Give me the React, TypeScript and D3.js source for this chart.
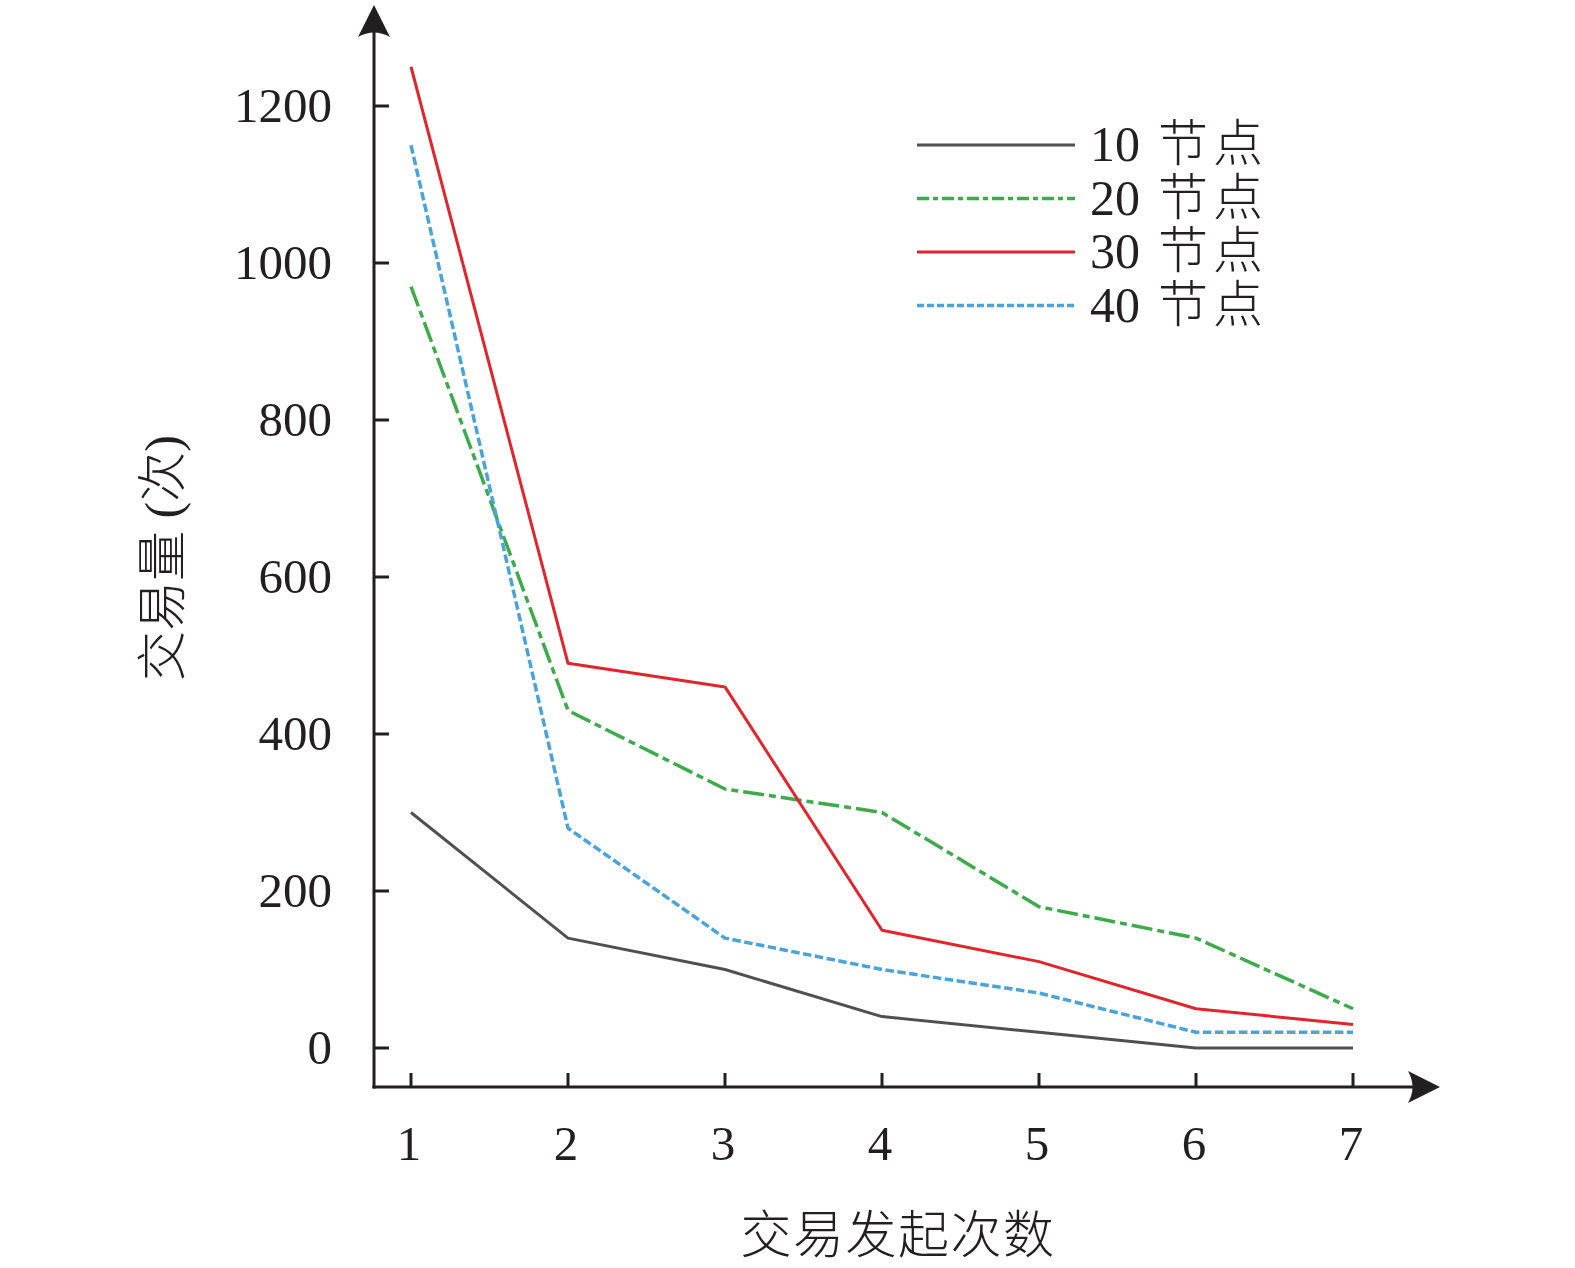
import React from 'react';
import * as d3 from 'd3';

// x categories: number of times a transaction was initiated
const rounds = [1, 2, 3, 4, 5, 6, 7];
const yTicks = [0, 200, 400, 600, 800, 1000, 1200];

// transaction volume per network size
const nodes10 = [300, 140, 100, 40, 20, 0, 0];
const nodes20 = [970, 430, 330, 300, 180, 140, 50];
const nodes30 = [1250, 490, 460, 150, 110, 50, 30];
const nodes40 = [1150, 280, 140, 100, 70, 20, 20];

const seriesCounts = ['10', '20', '30', '40'];
const seriesUnit = '节点';

const W = 1575;
const H = 1268;
const NUM_FONT = '"Liberation Serif", "Times New Roman", "Noto Sans CJK SC", serif';
const CJK_FONT = '"Liberation Serif", "Noto Sans CJK SC", sans-serif';

const SERIES = [
  { count: seriesCounts[0], values: nodes10, color: '#505050', width: 3, dash: undefined as string | undefined, legendDash: undefined as string | undefined },
  { count: seriesCounts[1], values: nodes20, color: '#3daa4b', width: 3.5, dash: '21,5,7,5', legendDash: '12,4,5,4' },
  { count: seriesCounts[2], values: nodes30, color: '#e0262c', width: 3, dash: undefined, legendDash: undefined },
  { count: seriesCounts[3], values: nodes40, color: '#4aa3d9', width: 3.5, dash: '8.5,3.5', legendDash: '7,3' },
];

export default function App() {
  const originX = 374;
  const originY = 1087;

  const x = d3.scaleLinear().domain([1, 7]).range([411, 1353]);
  const y = d3.scaleLinear().domain([0, 1200]).range([1048, 106]);

  const line = d3
    .line<number>()
    .x((_, i) => x(rounds[i]))
    .y(d => y(d));

  const legendX0 = 917;
  const legendX1 = 1075;
  const legendY0 = 145;
  const legendStep = 53.5;

  return (
    <svg
      width={W}
      height={H}
      style={{ position: 'absolute', left: 0, top: 0, background: '#fff' }}
    >
      {/* axes */}
      <g stroke="#231f20" strokeWidth={3} fill="none">
        <line x1={originX} y1={originY + 1.5} x2={originX} y2={30} />
        <line x1={originX - 1.5} y1={originY} x2={1416} y2={originY} />
      </g>
      <path
        d={`M${originX},5 L${originX + 16},37 Q${originX},28 ${originX - 16},37 Z`}
        fill="#231f20"
      />
      <path
        d={`M1440,${originY} L1408,${originY - 16} Q1417,${originY} 1408,${originY + 16} Z`}
        fill="#231f20"
      />

      {/* y ticks */}
      {yTicks.map(t => (
        <g key={`y${t}`}>
          <line x1={originX} x2={originX + 15} y1={y(t)} y2={y(t)} stroke="#231f20" strokeWidth={3} />
          <text
            x={332}
            y={y(t)}
            dy="0.33em"
            textAnchor="end"
            fontFamily={NUM_FONT}
            fontSize={49}
            fill="#231f20"
          >
            {t}
          </text>
        </g>
      ))}

      {/* x ticks */}
      {rounds.map(r => (
        <g key={`x${r}`}>
          <line x1={x(r)} x2={x(r)} y1={originY} y2={originY - 14} stroke="#231f20" strokeWidth={3} />
          <text
            x={x(r) - 2}
            y={1160}
            textAnchor="middle"
            fontFamily={NUM_FONT}
            fontSize={49}
            fill="#231f20"
          >
            {r}
          </text>
        </g>
      ))}

      {/* axis titles */}
      <text
        x={898}
        y={1253}
        textAnchor="middle"
        fontFamily={CJK_FONT}
        fontWeight={300}
        fontSize={51}
        letterSpacing={1.5}
        fill="#231f20"
      >
        交易发起次数
      </text>
      <text
        transform="translate(180,558) rotate(-90)"
        textAnchor="middle"
        fontFamily={CJK_FONT}
        fontWeight={300}
        fontSize={50}
        fill="#231f20"
      >
        交易量 (次)
      </text>

      {/* series */}
      {SERIES.map(s => (
        <path
          key={s.count}
          d={line(s.values) || ''}
          fill="none"
          stroke={s.color}
          strokeWidth={s.width}
          strokeDasharray={s.dash}
          strokeLinejoin="round"
        />
      ))}

      {/* legend */}
      {SERIES.map((s, i) => {
        const ly = legendY0 + i * legendStep;
        return (
          <g key={`lg${i}`}>
            <line
              x1={legendX0}
              x2={legendX1}
              y1={ly}
              y2={ly}
              stroke={s.color}
              strokeWidth={s.width}
              strokeDasharray={s.legendDash}
            />
            <text
              x={1090}
              y={ly + 16}
              fontFamily={CJK_FONT}
              fontWeight={300}
              fontSize={50}
              fill="#231f20"
            >
              {s.count}
              <tspan dx={18} letterSpacing={5}>{seriesUnit}</tspan>
            </text>
          </g>
        );
      })}
    </svg>
  );
}
